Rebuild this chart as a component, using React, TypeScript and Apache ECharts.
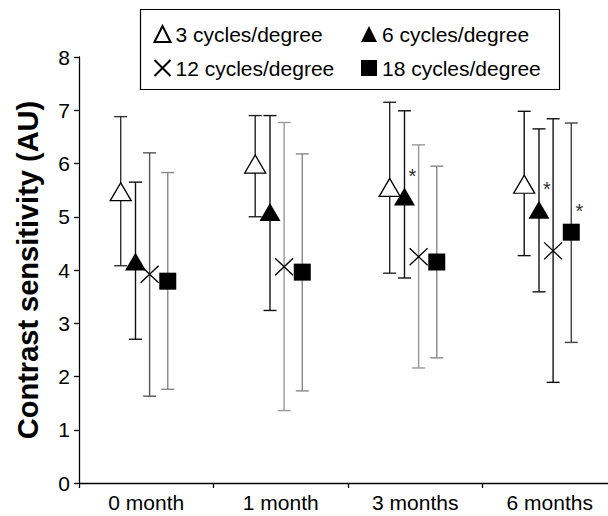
import React, { useEffect, useRef } from "react";
import * as echarts from "echarts";

const categories = ["0 month", "1 month", "3 months", "6 months"];
const yTicks = [0, 1, 2, 3, 4, 5, 6, 7, 8];
const seriesNames = ["3 cycles/degree", "6 cycles/degree", "12 cycles/degree", "18 cycles/degree"];

const mean3 = [5.47, 5.99, 5.55, 5.61];
const low3 = [4.08, 5.0, 3.94, 4.27];
const high3 = [6.88, 6.9, 7.15, 6.98];

const mean6 = [4.16, 5.09, 5.38, 5.13];
const low6 = [2.7, 3.24, 3.85, 3.59];
const high6 = [5.65, 6.9, 6.99, 6.65];

const mean12 = [3.92, 4.06, 4.25, 4.36];
const low12 = [1.63, 1.36, 2.16, 1.89];
const high12 = [6.2, 6.77, 6.35, 6.84];

const mean18 = [3.79, 3.96, 4.15, 4.71];
const low18 = [1.76, 1.73, 2.35, 2.64];
const high18 = [5.83, 6.18, 5.95, 6.76];

const sig3 = [false, false, false, false];
const sig6 = [false, false, true, true];
const sig12 = [false, false, false, false];
const sig18 = [false, false, false, true];

// error-bar stroke shades per group (style only)
const barShade3 = ["#333", "#222", "#222", "#111"];
const barShade6 = ["#111", "#111", "#111", "#111"];
const barShade12 = ["#555", "#999", "#999", "#111"];
const barShade18 = ["#888", "#888", "#888", "#444"];

const FONT = "Liberation Sans, Arial, sans-serif";

export default function App() {
  const ref = useRef<HTMLDivElement>(null);
  useEffect(() => {
    if (!ref.current) return;
    const chart = echarts.init(ref.current, null, { renderer: "svg" });

    const defs = [
      {
        name: seriesNames[0], mean: mean3, low: low3, high: high3, sig: sig3, offset: -0.19,
        symbol: "triangle", size: [21, 18],
        itemStyle: { color: "#ffffff", borderColor: "#000", borderWidth: 1.3, opacity: 1 },
        bar: barShade3,
      },
      {
        name: seriesNames[1], mean: mean6, low: low6, high: high6, sig: sig6, offset: -0.08,
        symbol: "triangle", size: [21, 18],
        itemStyle: { color: "#000", borderColor: "#000", borderWidth: 0, opacity: 1 },
        bar: barShade6,
      },
      {
        name: seriesNames[2], mean: mean12, low: low12, high: high12, sig: sig12, offset: 0.025,
        symbol: "path://M0,0L20,20M20,0L0,20", size: [18, 17],
        itemStyle: { color: "none", borderColor: "#000", borderWidth: 1.3, opacity: 1 },
        bar: barShade12,
      },
      {
        name: seriesNames[3], mean: mean18, low: low18, high: high18, sig: sig18, offset: 0.16,
        symbol: "rect", size: [17, 17],
        itemStyle: { color: "#000", borderColor: "#000", borderWidth: 0, opacity: 1 },
        bar: barShade18,
      },
    ];

    const series: any[] = [];
    defs.forEach((d) => {
      series.push({
        type: "custom",
        name: d.name + " error",
        xAxisIndex: 1,
        yAxisIndex: 0,
        z: 2,
        encode: { x: 0, y: [1, 2] },
        data: categories.map((_, i) => [i + d.offset, d.low[i], d.high[i]]),
        renderItem: (params: any, api: any) => {
          const x = api.value(0);
          const pl = api.coord([x, api.value(1)]);
          const ph = api.coord([x, api.value(2)]);
          const cw = 6.5;
          const st = { stroke: d.bar[params.dataIndex], lineWidth: 1.4 };
          return {
            type: "group",
            children: [
              { type: "line", shape: { x1: pl[0], y1: ph[1], x2: pl[0], y2: pl[1] }, style: st },
              { type: "line", shape: { x1: pl[0] - cw, y1: ph[1], x2: pl[0] + cw, y2: ph[1] }, style: st },
              { type: "line", shape: { x1: pl[0] - cw, y1: pl[1], x2: pl[0] + cw, y2: pl[1] }, style: st },
            ],
          };
        },
      });
    });
    defs.forEach((d) => {
      series.push({
        type: "scatter",
        name: d.name,
        xAxisIndex: 1,
        yAxisIndex: 0,
        z: 3,
        symbol: d.symbol,
        symbolSize: d.size,
        itemStyle: d.itemStyle,
        emphasis: { disabled: true },
        label: {
          show: false,
          formatter: "*",
          position: "inside",
          offset: [8, -21],
          fontSize: 20,
          color: "#333",
          fontFamily: FONT,
        },
        data: d.mean.map((v, i) => ({
          value: [i + d.offset, v],
          label: d.sig[i] ? { show: true } : undefined,
        })),
      });
    });

    const legendText = { fontSize: 21, color: "#000", fontFamily: FONT, lineHeight: 22 };

    chart.setOption({
      animation: false,
      textStyle: { fontFamily: FONT },
      grid: { left: 79, right: 0, top: 57, bottom: 33, containLabel: false },
      legend: [
        {
          data: [seriesNames[0], seriesNames[2]],
          orient: "vertical", left: 152, top: 23, itemGap: 12, padding: 0,
          itemWidth: 16, itemHeight: 16, selectedMode: false, textStyle: legendText,
        },
        {
          data: [seriesNames[1], seriesNames[3]],
          orient: "vertical", left: 361, top: 23, itemGap: 12, padding: 0,
          itemWidth: 16, itemHeight: 16, selectedMode: false, textStyle: legendText,
        },
      ],
      graphic: [
        {
          type: "rect",
          shape: { x: 140.5, y: 9.5, width: 419, height: 80 },
          style: { fill: "none", stroke: "#000", lineWidth: 1.2 },
          z: 10,
        },
      ],
      xAxis: [
        {
          type: "category",
          data: categories,
          boundaryGap: true,
          axisLine: { lineStyle: { color: "#000", width: 1.3 } },
          axisTick: { show: true, length: 5, lineStyle: { color: "#000", width: 1.3 } },
          axisLabel: { fontSize: 21, color: "#000", margin: 9, fontFamily: FONT },
          splitLine: { show: false },
        },
        { type: "value", min: -0.5, max: 3.5, show: false },
      ],
      yAxis: {
        type: "value",
        min: yTicks[0],
        max: yTicks[yTicks.length - 1],
        interval: 1,
        name: "Contrast sensitivity (AU)",
        nameLocation: "middle",
        nameGap: 37,
        nameTextStyle: { fontSize: 29, fontWeight: "bold", color: "#000", fontFamily: FONT },
        axisLine: { show: true, onZero: false, lineStyle: { color: "#000", width: 1.3 } },
        axisTick: { show: true, length: 5, lineStyle: { color: "#000", width: 1.3 } },
        axisLabel: { fontSize: 21, color: "#000", margin: 9, fontFamily: FONT },
        splitLine: { show: false },
      },
      series,
    });
    return () => chart.dispose();
  }, []);
  return (
    <div style={{ position: "absolute", left: 0, top: 0, width: 608, height: 516, overflow: "hidden" }}>
      <div ref={ref} style={{ width: 617, height: 516 }} />
    </div>
  );
}
